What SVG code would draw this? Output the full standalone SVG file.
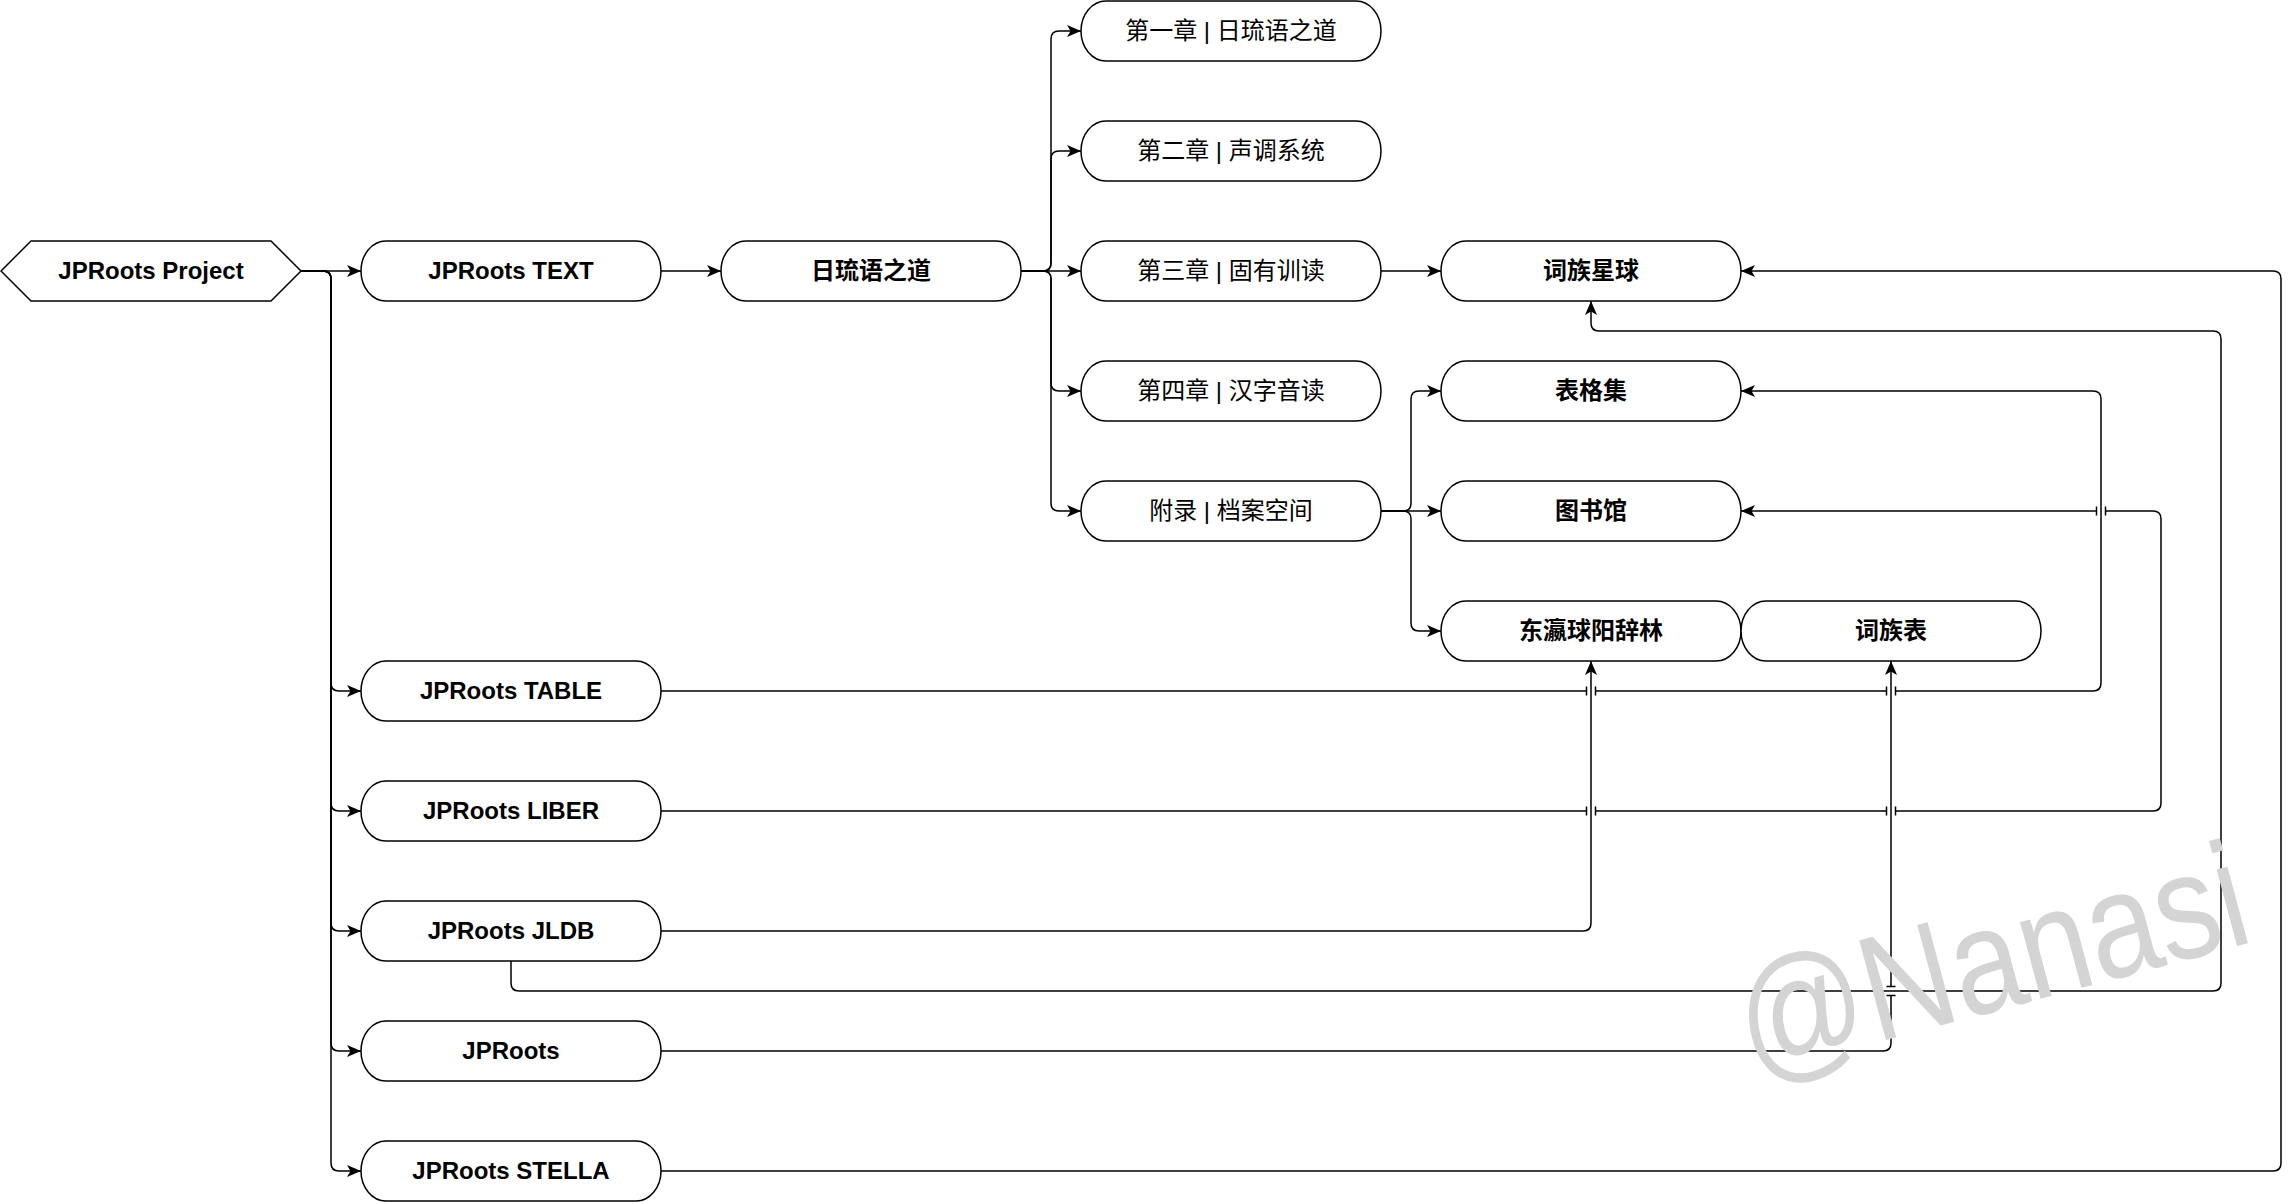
<svg xmlns="http://www.w3.org/2000/svg" width="2295" height="1202" viewBox="0 0 2295 1202">
<style>
.n{fill:#fff;stroke:#000;stroke-width:1.5}
.t{font-family:"Liberation Sans","Noto Sans CJK SC",sans-serif;font-size:24px;fill:#000;text-anchor:middle}
.b{font-weight:bold}
.e{fill:none;stroke:#000;stroke-width:1.5}
.a{marker-end:url(#arr)}
.wm{font-family:"Liberation Sans",Arial,sans-serif;font-size:150px;fill:#d4d4d4}
</style>
<defs>
<marker id="arr" markerUnits="userSpaceOnUse" markerWidth="15" markerHeight="12" refX="14" refY="6" orient="auto" overflow="visible">
<path d="M0,0 L14,6 L0,12 L3.5,6 Z" fill="#000"/>
</marker>
</defs>
<rect width="2295" height="1202" fill="#fff"/>
<g id="connectors">
<path class="e a" d="M301,271 H361"/>
<path class="e a" d="M301,271 H323 Q331,271 331,279 V683 Q331,691 339,691 H361"/>
<path class="e a" d="M301,271 H323 Q331,271 331,279 V803 Q331,811 339,811 H361"/>
<path class="e a" d="M301,271 H323 Q331,271 331,279 V923 Q331,931 339,931 H361"/>
<path class="e a" d="M301,271 H323 Q331,271 331,279 V1043 Q331,1051 339,1051 H361"/>
<path class="e a" d="M301,271 H323 Q331,271 331,279 V1163 Q331,1171 339,1171 H361"/>
<path class="e a" d="M661,271 H721"/>
<path class="e a" d="M1021,271 H1043 Q1051,271 1051,263 V39 Q1051,31 1059,31 H1081"/>
<path class="e a" d="M1021,271 H1043 Q1051,271 1051,263 V159 Q1051,151 1059,151 H1081"/>
<path class="e a" d="M1021,271 H1081"/>
<path class="e a" d="M1021,271 H1043 Q1051,271 1051,279 V383 Q1051,391 1059,391 H1081"/>
<path class="e a" d="M1021,271 H1043 Q1051,271 1051,279 V503 Q1051,511 1059,511 H1081"/>
<path class="e a" d="M1381,271 H1441"/>
<path class="e a" d="M1381,511 H1403 Q1411,511 1411,503 V399 Q1411,391 1419,391 H1441"/>
<path class="e a" d="M1381,511 H1441"/>
<path class="e a" d="M1381,511 H1403 Q1411,511 1411,519 V623 Q1411,631 1419,631 H1441"/>
<!-- TABLE -> 表格集 -->
<path class="e a" d="M661,691 H1586.5 M1595.5,691 H1886.5 M1895.5,691 H2093 Q2101,691 2101,683 V399 Q2101,391 2093,391 H1741"/>
<path class="e" d="M1586.5,686.5 V695.5 M1595.5,686.5 V695.5 M1886.5,686.5 V695.5 M1895.5,686.5 V695.5"/>
<!-- LIBER -> 图书馆 -->
<path class="e a" d="M661,811 H1586.5 M1595.5,811 H1886.5 M1895.5,811 H2153 Q2161,811 2161,803 V519 Q2161,511 2153,511 H2105.5 M2096.5,511 H1741"/>
<path class="e" d="M1586.5,806.5 V815.5 M1595.5,806.5 V815.5 M1886.5,806.5 V815.5 M1895.5,806.5 V815.5 M2096.5,506.5 V515.5 M2105.5,506.5 V515.5"/>
<!-- JLDB -> 东瀛球阳辞林 -->
<path class="e a" d="M661,931 H1583 Q1591,931 1591,923 V661"/>
<!-- JLDB -> 词族星球 -->
<path class="e a" d="M511,961 V983 Q511,991 519,991 H2213 Q2221,991 2221,983 V339 Q2221,331 2213,331 H1599 Q1591,331 1591,323 V301"/>
<!-- JPRoots -> 词族表 -->
<path class="e a" d="M661,1051 H1883 Q1891,1051 1891,1043 V995.5 M1891,986.5 V661"/>
<path class="e" d="M1886.5,986.5 H1895.5 M1886.5,995.5 H1895.5"/>
<!-- STELLA -> 词族星球 -->
<path class="e a" d="M661,1171 H2273 Q2281,1171 2281,1163 V279 Q2281,271 2273,271 H1741"/>
</g>
<g id="node-project"><polygon class="n" points="1,271 31,241 271,241 301,271 271,301 31,301"/><text class="t b" x="151" y="279">JPRoots Project</text></g>
<g id="node-text"><rect class="n" x="361" y="241" width="300" height="60" rx="25" ry="30"/><text class="t b" x="511" y="279">JPRoots TEXT</text></g>
<g id="node-rdao"><rect class="n" x="721" y="241" width="300" height="60" rx="25" ry="30"/><text class="t b" x="871" y="279">日琉语之道</text></g>
<g id="node-ch1"><rect class="n" x="1081" y="1" width="300" height="60" rx="25" ry="30"/><text class="t" x="1231" y="39">第一章 | 日琉语之道</text></g>
<g id="node-ch2"><rect class="n" x="1081" y="121" width="300" height="60" rx="25" ry="30"/><text class="t" x="1231" y="159">第二章 | 声调系统</text></g>
<g id="node-ch3"><rect class="n" x="1081" y="241" width="300" height="60" rx="25" ry="30"/><text class="t" x="1231" y="279">第三章 | 固有训读</text></g>
<g id="node-ch4"><rect class="n" x="1081" y="361" width="300" height="60" rx="25" ry="30"/><text class="t" x="1231" y="399">第四章 | 汉字音读</text></g>
<g id="node-app"><rect class="n" x="1081" y="481" width="300" height="60" rx="25" ry="30"/><text class="t" x="1231" y="519">附录 | 档案空间</text></g>
<g id="node-planet"><rect class="n" x="1441" y="241" width="300" height="60" rx="25" ry="30"/><text class="t b" x="1591" y="279">词族星球</text></g>
<g id="node-tables"><rect class="n" x="1441" y="361" width="300" height="60" rx="25" ry="30"/><text class="t b" x="1591" y="399">表格集</text></g>
<g id="node-library"><rect class="n" x="1441" y="481" width="300" height="60" rx="25" ry="30"/><text class="t b" x="1591" y="519">图书馆</text></g>
<g id="node-dict"><rect class="n" x="1441" y="601" width="300" height="60" rx="25" ry="30"/><text class="t b" x="1591" y="639">东瀛球阳辞林</text></g>
<g id="node-wordtable"><rect class="n" x="1741" y="601" width="300" height="60" rx="25" ry="30"/><text class="t b" x="1891" y="639">词族表</text></g>
<g id="node-table"><rect class="n" x="361" y="661" width="300" height="60" rx="25" ry="30"/><text class="t b" x="511" y="699">JPRoots TABLE</text></g>
<g id="node-liber"><rect class="n" x="361" y="781" width="300" height="60" rx="25" ry="30"/><text class="t b" x="511" y="819">JPRoots LIBER</text></g>
<g id="node-jldb"><rect class="n" x="361" y="901" width="300" height="60" rx="25" ry="30"/><text class="t b" x="511" y="939">JPRoots JLDB</text></g>
<g id="node-jproots"><rect class="n" x="361" y="1021" width="300" height="60" rx="25" ry="30"/><text class="t b" x="511" y="1059">JPRoots</text></g>
<g id="node-stella"><rect class="n" x="361" y="1141" width="300" height="60" rx="25" ry="30"/><text class="t b" x="511" y="1179">JPRoots STELLA</text></g>
<text class="wm" transform="translate(1752,1076) rotate(-15)" textLength="522" lengthAdjust="spacingAndGlyphs">@Nanasi</text>
</svg>
